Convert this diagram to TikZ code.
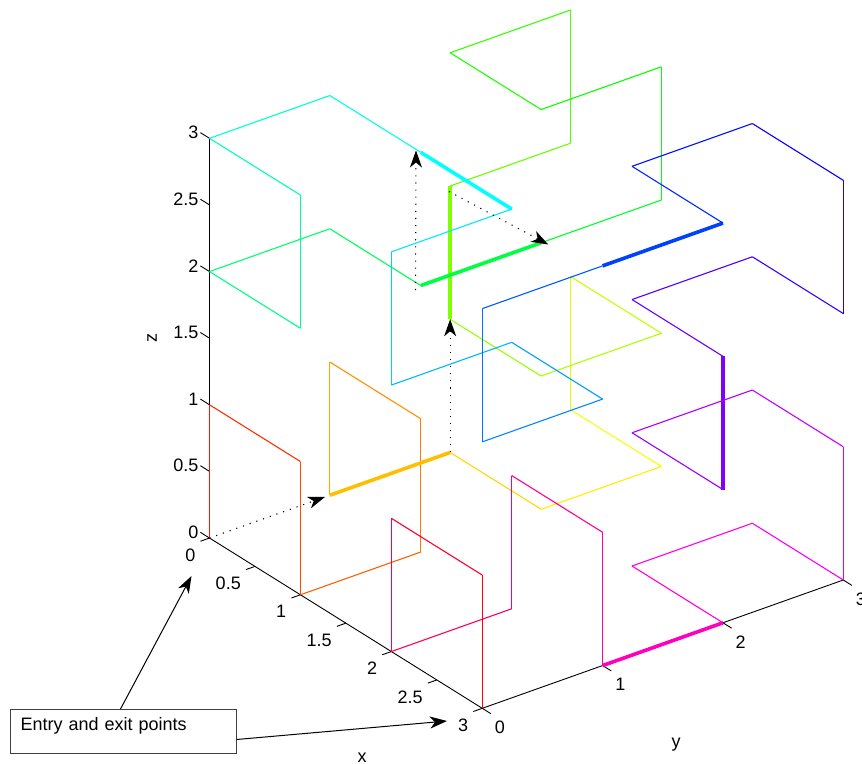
\documentclass[tikz,border=0pt]{standalone}
\usepackage{fontspec}
\setmainfont{Liberation Sans}
\usetikzlibrary{arrows.meta}

\begin{document}
\begin{tikzpicture}[
  x={(90.93pt,-56.77pt)}, y={(120.33pt,42.77pt)}, z={(0pt,133.23pt)},
  font=\fontsize{18}{21}\selectfont,
  axisline/.style={line width=0.9pt, draw=black},
  tickmark/.style={line width=0.9pt, draw=black},
  seg/.style={line width=1.1pt},
  bridge/.style={line width=3.6pt},
  guide/.style={draw=black, line width=1.1pt, dash pattern=on 1.1pt off 6pt, -{Stealth[length=17pt,width=12pt,inset=5pt]}},
  callout/.style={draw=black, line width=1pt, -{Stealth[length=17pt,width=12pt,inset=5pt]}},
  notebox/.style={draw=black!75, line width=1pt, fill=white, anchor=north west, align=left, text width=205pt, inner xsep=10.5pt, inner ysep=0pt, text height=21pt, text depth=23pt}
]
\useasboundingbox (0pt,0pt) rectangle (862pt,-763pt);

\begin{scope}[shift={(209.5pt,-538pt)}]
% vertices of the curve
\foreach \px/\py/\pz [count=\n from 0] in {
  0/0/0, 0/0/1, 1/0/1, 1/0/0, 1/1/0, 1/1/1, 0/1/1, 0/1/0,
  0/2/0, 1/2/0, 1/3/0, 0/3/0, 0/3/1, 1/3/1, 1/2/1, 0/2/1,
  0/2/2, 0/3/2, 0/3/3, 0/2/3, 1/2/3, 1/3/3, 1/3/2, 1/2/2,
  1/1/2, 0/1/2, 0/0/2, 1/0/2, 1/0/3, 0/0/3, 0/1/3, 1/1/3,
  2/1/3, 2/0/3, 2/0/2, 2/1/2, 3/1/2, 3/0/2, 3/0/3, 3/1/3,
  3/2/3, 2/2/3, 2/3/3, 3/3/3, 3/3/2, 2/3/2, 2/2/2, 3/2/2,
  3/2/1, 2/2/1, 2/3/1, 3/3/1, 3/3/0, 2/3/0, 2/2/0, 3/2/0,
  3/1/0, 3/1/1, 2/1/1, 2/1/0, 2/0/0, 2/0/1, 3/0/1, 3/0/0}
  \coordinate (p\n) at (\px,\py,\pz);

% axes
\coordinate (o) at (0,0,0);
\coordinate (xend) at (3,0,0);
\coordinate (yend) at (3,3,0);
\coordinate (zend) at (0,0,3);
\draw[axisline] (zend) -- (o) -- (xend) -- (yend);

\foreach \t [count=\k] in {0,0.5,1,1.5,2,2.5,3} {
  \draw[tickmark] (0,0,\t) -- (-0.1,0,\t) node[anchor=east, inner sep=1.5pt] (zt\k) {\t};
  \draw[tickmark] (\t,0,0) -- (\t,-0.075,0);
  \node[anchor=east, inner sep=0pt, xshift=-14pt, yshift=-17pt] (xt\k) at (\t,0,0) {\t};
}
\foreach \t [count=\k] in {0,1,2,3} {
  \draw[tickmark] (3,\t,0) -- (3.095,\t,0);
  \node[anchor=west, inner sep=0pt, xshift=12.5pt, yshift=-19pt] (yt\k) at (3,\t,0) {\t};
}

% the curve, one colour per step
\foreach \i [evaluate=\i as \j using int(\i+1), evaluate=\i as \hue using (\i+1)/64] in {0,...,62} {
  \definecolor{segcol}{hsb}{\hue,1,1}
  \pgfmathtruncatemacro\isbridge{mod(\i+1,8)==0}
  \ifnum\isbridge=1
    \draw[bridge, segcol] (p\i) -- (p\j);
  \else
    \draw[seg, segcol] (p\i) -- (p\j);
  \fi
}

% dotted guides
\coordinate (g1) at (0,0.96,0);
\draw[guide] (o) -- (g1);
\draw[guide] (p8) -- (p15);
\end{scope}

\coordinate (g3a) at (415.5pt,-290pt);
\coordinate (g3b) at (416pt,-150.5pt);
\coordinate (g4a) at (449pt,-191.5pt);
\coordinate (g4b) at (548.3pt,-244.5pt);
\draw[guide] (g3a) -- (g3b);
\draw[guide] (g4a) -- (g4b);

% axis labels
\node[rotate=90] (zlabel) at (152pt,-338pt) {z};
\node (ylabel) at (676pt,-745pt) {y};
\node (xlabel) at (362pt,-758pt) {x};

% annotation
\node[notebox] (note) at (9.5pt,-709pt) {Entry and exit points};
\coordinate (entrytip) at (191.5pt,-576pt);
\coordinate (exittip) at (447pt,-721pt);
\draw[callout] ([xshift=-2.5pt]note.north) -- (entrytip);
\draw[callout] ([yshift=-8pt]note.east) -- (exittip);
\end{tikzpicture}
\end{document}
